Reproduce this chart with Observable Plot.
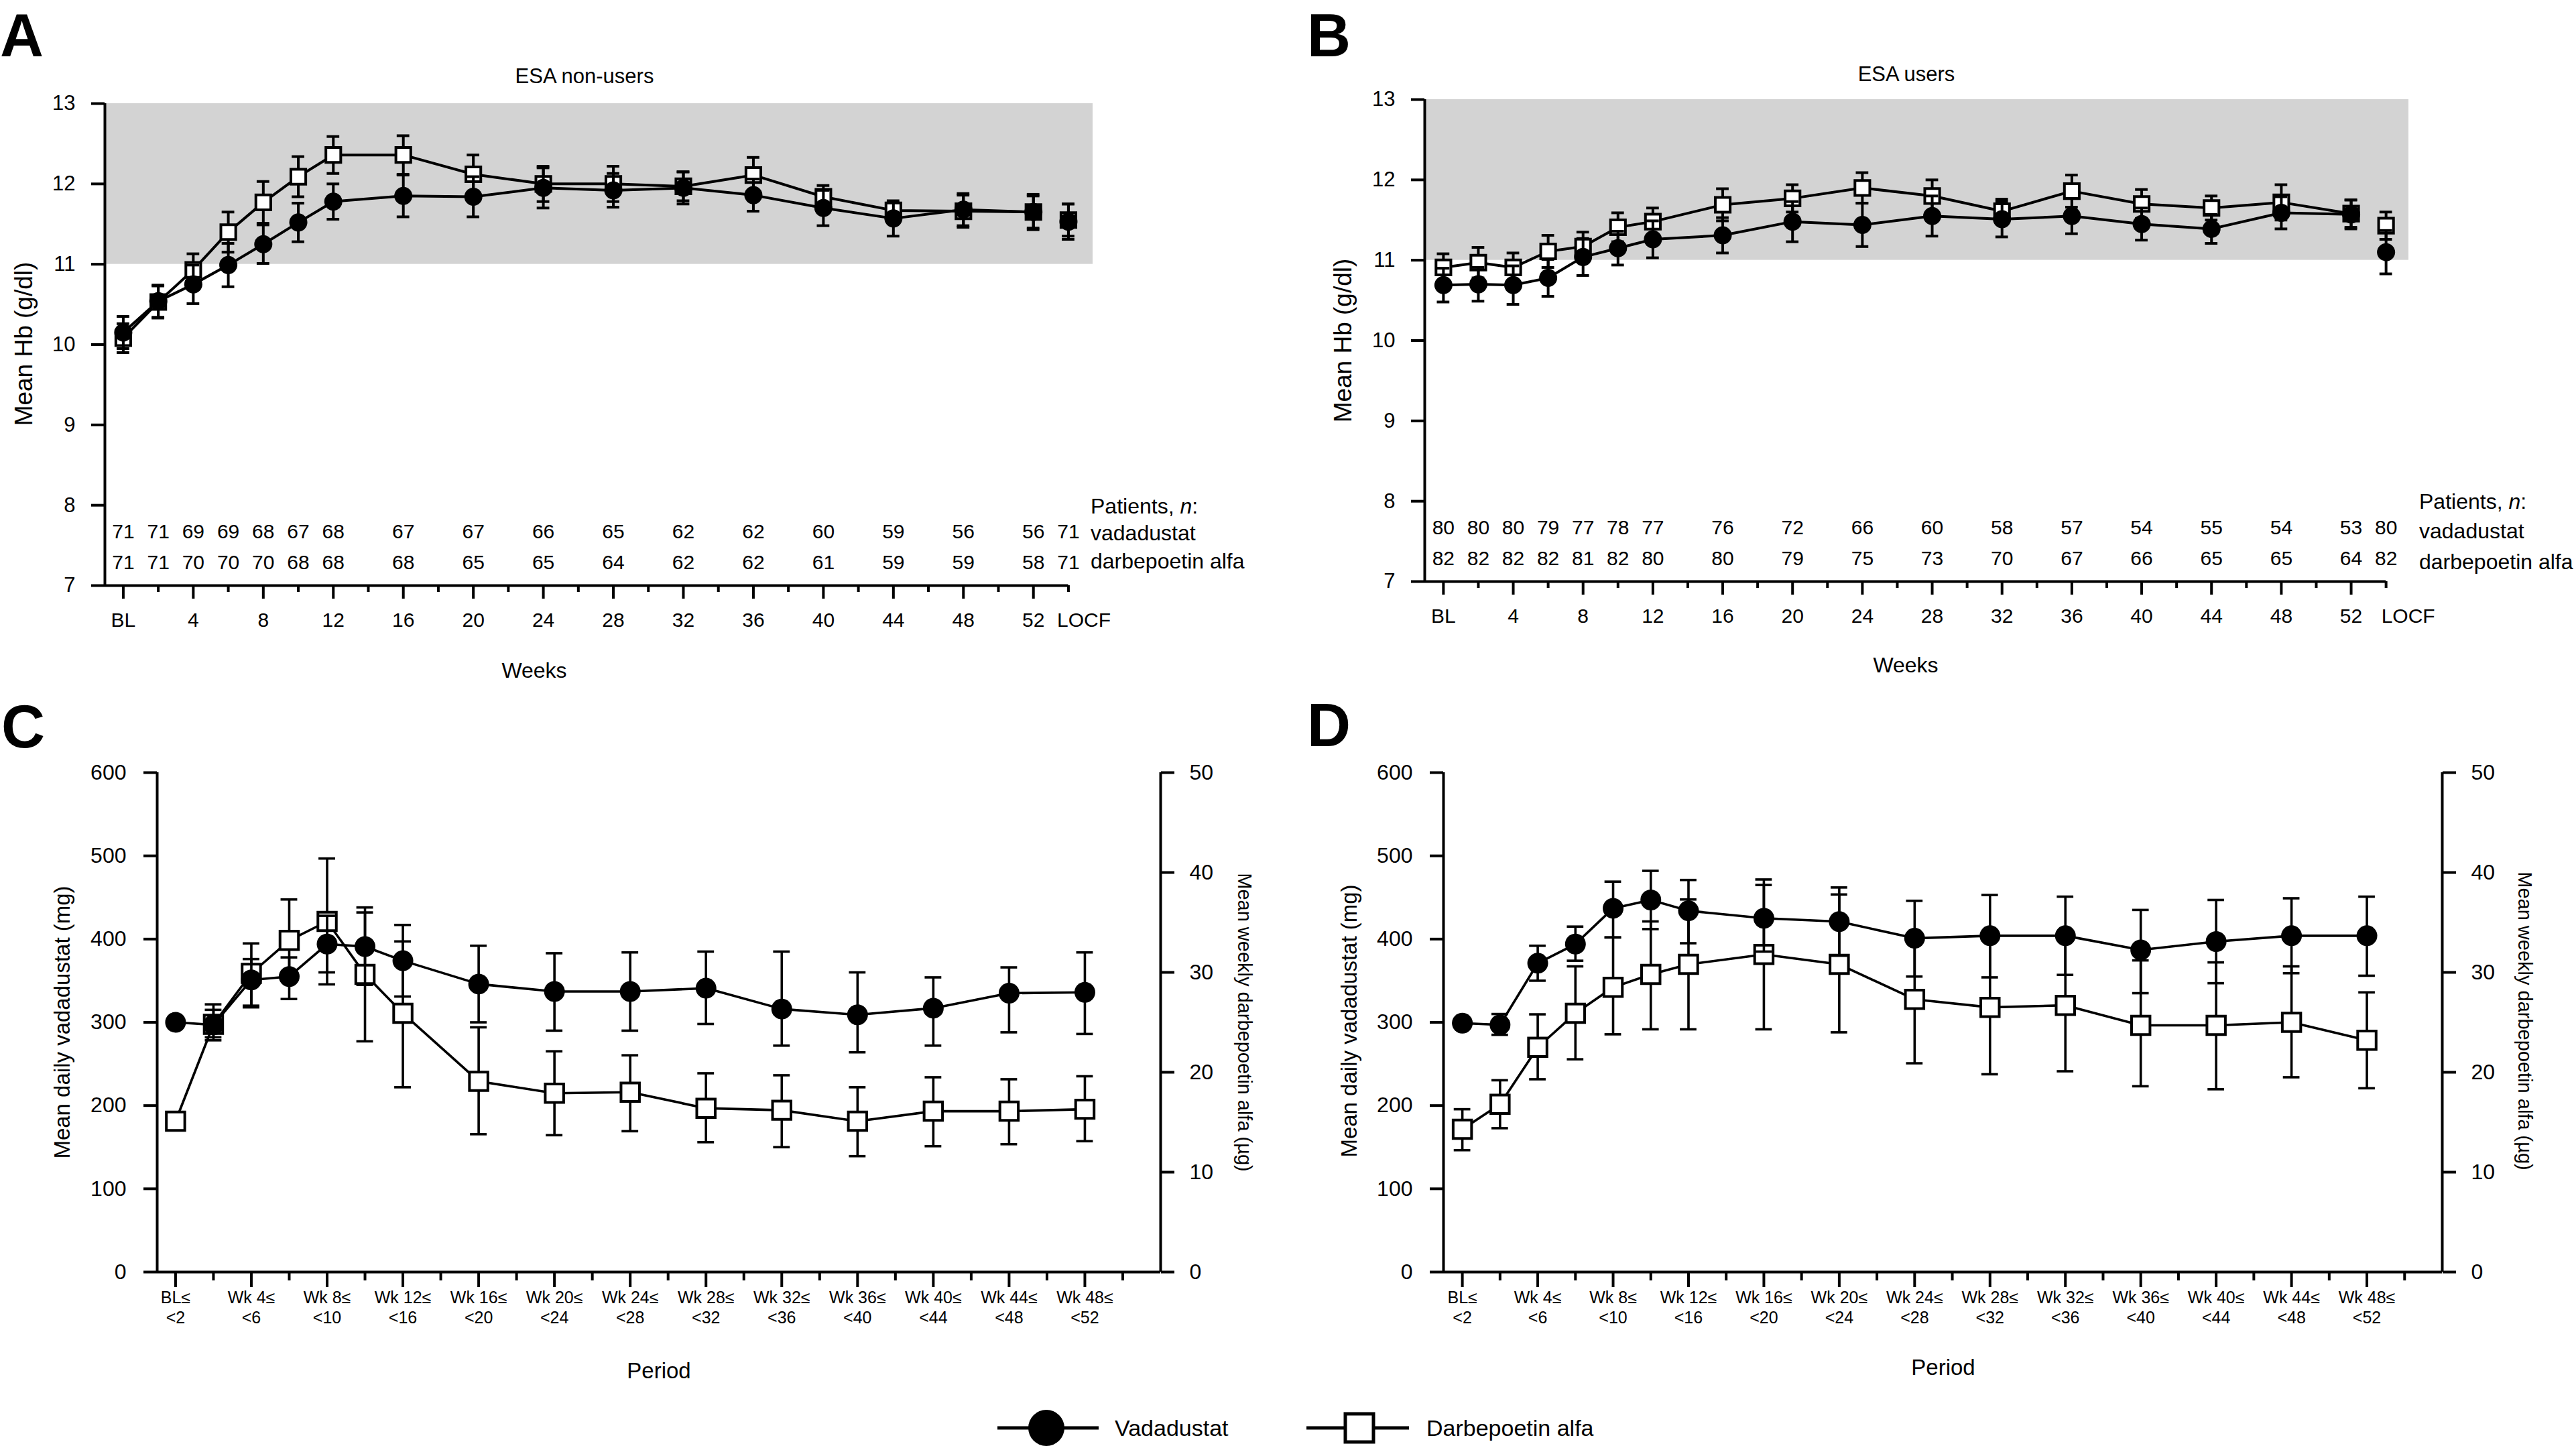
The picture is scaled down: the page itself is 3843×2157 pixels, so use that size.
<!DOCTYPE html>
<html><head><meta charset="utf-8">
<script src="https://cdn.jsdelivr.net/npm/d3@7"></script>
<script src="https://cdn.jsdelivr.net/npm/@observablehq/plot@0.6"></script>
<style>
html,body{margin:0;padding:0;background:#fff;}
#root{position:relative;width:3843px;height:2157px;overflow:hidden;background:#fff;color:#000;
  font-family:"Liberation Sans",Arial,Helvetica,sans-serif;}
#root svg{overflow:visible;}
</style></head>
<body><div id="root"></div>
<script>
// ---------------- DATA ----------------
// Hb panels (A, B): visit weeks; 54 is the slot used for the LOCF column
const hbWeeks = [0,2,4,6,8,10,12,16,20,24,28,32,36,40,44,48,52,54];
const hbTickWeeks = [0,4,8,12,16,20,24,28,32,36,40,44,48,52,54];
const hbTickLabels = ["BL","4","8","12","16","20","24","28","32","36","40","44","48","52","LOCF"];
const hbYTicks = [7,8,9,10,11,12,13];
const hbTarget = [11, 13];

// Panel A – ESA non-users
const aVadMean  = [10.15,10.54,10.75,10.99,11.25,11.52,11.78,11.85,11.84,11.95,11.92,11.95,11.86,11.70,11.57,11.68,11.65,11.53];
const aVadSE    = [0.20,0.20,0.24,0.27,0.24,0.24,0.22,0.26,0.25,0.25,0.21,0.20,0.20,0.22,0.22,0.20,0.22,0.22];
const aDarbMean = [10.08,10.53,10.93,11.40,11.77,12.09,12.36,12.36,12.12,12.00,12.00,11.97,12.11,11.84,11.67,11.66,11.65,11.55];
const aDarbSE   = [0.18,0.20,0.20,0.25,0.26,0.25,0.23,0.24,0.24,0.22,0.22,0.18,0.22,0.14,0.10,0.20,0.20,0.20];
const aVadN  = [71,71,69,69,68,67,68,67,67,66,65,62,62,60,59,56,56,71];
const aDarbN = [71,71,70,70,70,68,68,68,65,65,64,62,62,61,59,59,58,71];

// Panel B – ESA users
const bVadMean  = [10.69,10.70,10.69,10.78,11.04,11.15,11.26,11.31,11.48,11.44,11.55,11.51,11.55,11.45,11.39,11.59,11.57,11.10];
const bVadSE    = [0.21,0.21,0.24,0.23,0.23,0.21,0.23,0.22,0.25,0.27,0.25,0.22,0.22,0.20,0.18,0.20,0.18,0.27];
const bDarbMean = [10.91,10.97,10.91,11.11,11.17,11.41,11.48,11.69,11.77,11.90,11.80,11.61,11.86,11.70,11.65,11.72,11.58,11.43];
const bDarbSE   = [0.17,0.19,0.18,0.20,0.18,0.18,0.17,0.20,0.17,0.19,0.20,0.15,0.20,0.18,0.15,0.22,0.17,0.17];
const bVadN  = [80,80,80,79,77,78,77,76,72,66,60,58,57,54,55,54,53,80];
const bDarbN = [82,82,82,82,81,82,80,80,79,75,73,70,67,66,65,65,64,82];

// Dose panels (C, D): period start week
const doseWeeks = [0,2,4,6,8,10,12,16,20,24,28,32,36,40,44,48];
const doseTickWeeks = [0,4,8,12,16,20,24,28,32,36,40,44,48];
const doseTickLabels = ["BL\u2264\n<2","Wk 4\u2264\n<6","Wk 8\u2264\n<10","Wk 12\u2264\n<16","Wk 16\u2264\n<20","Wk 20\u2264\n<24",
  "Wk 24\u2264\n<28","Wk 28\u2264\n<32","Wk 32\u2264\n<36","Wk 36\u2264\n<40","Wk 40\u2264\n<44","Wk 44\u2264\n<48","Wk 48\u2264\n<52"];
const mgTicks = [0,100,200,300,400,500,600];
const ugTicks = [0,10,20,30,40,50];
const mgAxisMax = 600, ugAxisMax = 50;

// Panel C – ESA non-users: vadadustat mg/day, darbepoetin µg/week
const cVadMg  = [300,297,351,355,394,391,374,346,337,337,341,316,309,317,335,336];
const cVadLo  = [null,282,320,328,360,345,331,300,290,290,298,272,264,272,288,286];
const cVadHi  = [null,315,376,378,428,438,417,392,383,384,385,385,360,354,366,384];
const cDarbUg = [15.1,24.8,29.9,33.2,35.1,29.8,25.9,19.1,17.9,18.0,16.4,16.2,15.1,16.1,16.1,16.3];
const cDarbLo = [null,23.2,26.5,29.2,28.8,23.1,18.5,13.8,13.7,14.1,13.0,12.5,11.6,12.6,12.8,13.1];
const cDarbHi = [null,26.8,32.9,37.3,41.4,36.0,33.1,24.5,22.1,21.7,19.9,19.7,18.5,19.5,19.3,19.6];

// Panel D – ESA users
const dVadMg  = [299,297,371,394,437,447,434,425,421,401,404,404,387,397,404,404];
const dVadLo  = [null,285,350,374,402,412,395,385,380,355,354,357,335,347,359,356];
const dVadHi  = [null,310,392,415,469,482,471,465,462,446,453,451,435,447,449,451];
const dDarbUg = [14.3,16.8,22.5,25.9,28.5,29.8,30.8,31.8,30.8,27.3,26.5,26.7,24.7,24.7,25.0,23.2];
const dDarbLo = [12.2,14.4,19.3,21.3,23.8,24.3,24.3,24.3,24.0,20.9,19.8,20.1,18.6,18.3,19.5,18.4];
const dDarbHi = [16.3,19.2,25.8,30.6,33.5,35.1,37.3,39.3,37.8,33.8,33.2,33.3,31.2,31.0,30.6,28.0];

// ---------------- DRAWING ----------------
const root = document.getElementById("root");
const FONT = '"Liberation Sans", Arial, Helvetica, sans-serif';

function place(node, left, top) {
  node.style.position = "absolute";
  node.style.left = left + "px";
  node.style.top = top + "px";
  root.appendChild(node);
}
function addText(html, x, y, o = {}) {
  const d = document.createElement("div");
  d.innerHTML = html;
  const s = d.style;
  s.position = "absolute"; s.left = x + "px"; s.top = y + "px";
  s.fontSize = (o.size || 30) + "px"; s.lineHeight = String(o.lh || 1); s.whiteSpace = "nowrap";
  if (o.bold) s.fontWeight = "bold";
  const ax = o.anchor === "start" ? "0" : "-50%";
  s.transform = `translate(${ax},-50%)` + (o.rotate ? ` rotate(${o.rotate}deg)` : "");
  root.appendChild(d);
}

function errMarks(data, cap, sw) {
  const ok = data.filter(d => d.lo != null && d.hi != null);
  return [
    Plot.ruleX(ok, {x: "week", y1: "lo", y2: "hi", stroke: "black", strokeWidth: sw}),
    Plot.ruleY(ok, {y: "lo", x1: d => d.week - cap, x2: d => d.week + cap, stroke: "black", strokeWidth: sw}),
    Plot.ruleY(ok, {y: "hi", x1: d => d.week - cap, x2: d => d.week + cap, stroke: "black", strokeWidth: sw})
  ];
}

function hbPanel(p) {
  const last = hbWeeks.length - 1;
  const rows = (mean, se, n) => hbWeeks.map((w, i) => ({week: w, mean: mean[i], lo: mean[i] - se[i], hi: mean[i] + se[i], n: n[i], locf: i === last}));
  const vad = rows(p.vadMean, p.vadSE, p.vadN);
  const darb = rows(p.darbMean, p.darbSE, p.darbN);
  const x0 = p.xDomain[0], x1 = p.xDomain[1];
  const yMin = hbYTicks[0], yMax = hbYTicks[hbYTicks.length - 1];
  const labels = hbTickWeeks.map((w, i) => ({week: w, label: hbTickLabels[i]}));
  const sw = 4;
  return Plot.plot({
    width: p.width, height: p.height,
    marginLeft: p.ml, marginRight: p.mr, marginTop: p.mt, marginBottom: p.mb,
    x: {domain: p.xDomain},
    y: {domain: [yMin, yMax]},
    style: {fontFamily: FONT, fontSize: "30px", background: "transparent", color: "black", overflow: "visible"},
    marks: [
      Plot.rect([hbTarget], {x1: () => x0, x2: () => x1, y1: d => d[0], y2: d => d[1], fill: "#d3d3d3"}),
      Plot.ruleX([x0], {y1: () => yMin, y2: () => yMax, strokeWidth: 4}),
      Plot.ruleY([yMin], {x1: () => x0, x2: () => hbTickWeeks[hbTickWeeks.length - 1], strokeWidth: 4}),
      Plot.axisY({ticks: hbYTicks, tickFormat: d => String(d), tickSize: 20, tickPadding: 24, strokeWidth: 4, fontSize: 31, label: null}),
      Plot.axisX({ticks: d3.range(0, 53, 4), tickSize: 20, strokeWidth: 4, tickFormat: () => "", label: null}),
      Plot.axisX({ticks: d3.range(2, 55, 4), tickSize: 10, strokeWidth: 4, tickFormat: () => "", label: null}),
      Plot.text(labels.filter(d => d.label !== "LOCF"), {x: "week", text: "label", frameAnchor: "bottom", dy: 61, fontSize: 30}),
      Plot.text(labels.filter(d => d.label === "LOCF"), {x: "week", text: "label", frameAnchor: "bottom", dy: 61, dx: p.locfDx, textAnchor: "start", fontSize: 30}),
      // patient counts
      Plot.text(vad, {x: "week", text: d => String(d.n), frameAnchor: "bottom", dy: -71, fontSize: 30}),
      Plot.text(darb, {x: "week", text: d => String(d.n), frameAnchor: "bottom", dy: -25, fontSize: 30}),
      // darbepoetin series
      Plot.line(darb.filter(d => !d.locf), {x: "week", y: "mean", stroke: "black", strokeWidth: 4}),
      ...errMarks(darb, p.cap, sw),
      Plot.dot(darb, {x: "week", y: "mean", symbol: "square", r: 12.5, fill: "white", stroke: "black", strokeWidth: 4}),
      // vadadustat series
      Plot.line(vad.filter(d => !d.locf), {x: "week", y: "mean", stroke: "black", strokeWidth: 4}),
      ...errMarks(vad, p.cap, sw),
      Plot.dot(vad, {x: "week", y: "mean", r: 13.5, fill: "black", stroke: "none"})
    ]
  });
}

function dosePanel(p) {
  const k = mgAxisMax / ugAxisMax;
  const sc = v => v == null ? null : v * k;
  const vad = doseWeeks.map((w, i) => ({week: w, y: p.vadMg[i], lo: p.vadLo[i], hi: p.vadHi[i]}));
  const darb = doseWeeks.map((w, i) => ({week: w, y: sc(p.darbUg[i]), lo: sc(p.darbLo[i]), hi: sc(p.darbHi[i])}));
  const x0 = p.xDomain[0], xr = p.xDomain[1];
  const labels = doseTickWeeks.map((w, i) => ({week: w, label: doseTickLabels[i]}));
  const sw = 3.6;
  return Plot.plot({
    width: p.width, height: p.height,
    marginLeft: p.ml, marginRight: p.mr, marginTop: p.mt, marginBottom: p.mb,
    x: {domain: p.xDomain},
    y: {domain: [0, mgAxisMax]},
    style: {fontFamily: FONT, fontSize: "32px", background: "transparent", color: "black", overflow: "visible"},
    marks: [
      Plot.ruleX([x0, xr], {y1: () => 0, y2: () => mgAxisMax, strokeWidth: 4}),
      Plot.ruleY([0], {x1: () => x0, x2: () => xr, strokeWidth: 4}),
      Plot.axisY({ticks: mgTicks, tickFormat: d => String(d), tickSize: 20, tickPadding: 26, strokeWidth: 4, fontSize: 32, label: null}),
      Plot.axisY({anchor: "right", ticks: ugTicks.map(v => v * k), tickFormat: d => String(Math.round(d / k)), tickSize: 20, tickPadding: 23, strokeWidth: 4, fontSize: 32, label: null}),
      Plot.axisX({ticks: d3.range(0, 49, 4), tickSize: 23, strokeWidth: 4, tickFormat: () => "", label: null}),
      Plot.axisX({ticks: d3.range(2, 51, 4), tickSize: 13, strokeWidth: 4, tickFormat: () => "", label: null}),
      Plot.text(labels, {x: "week", text: "label", frameAnchor: "bottom", dy: 76, fontSize: 25, lineHeight: 1.2}),
      // darbepoetin
      Plot.line(darb, {x: "week", y: "y", stroke: "black", strokeWidth: sw}),
      ...errMarks(darb, p.cap, sw),
      Plot.dot(darb, {x: "week", y: "y", symbol: "square", r: 15.5, fill: "white", stroke: "black", strokeWidth: 4}),
      // vadadustat
      Plot.line(vad, {x: "week", y: "y", stroke: "black", strokeWidth: sw}),
      ...errMarks(vad, p.cap, sw),
      Plot.dot(vad, {x: "week", y: "y", r: 15.5, fill: "black", stroke: "none"})
    ]
  });
}

// Panel A
place(hbPanel({vadMean: aVadMean, vadSE: aVadSE, darbMean: aDarbMean, darbSE: aDarbSE, vadN: aVadN, darbN: aDarbN,
  width: 1960, height: 1060, ml: 156, mr: 330, mt: 154, mb: 187, xDomain: [-1.05, 55.4], locfDx: -17, cap: 0.36}), 0, 0);
// Panel B
place(hbPanel({vadMean: bVadMean, vadSE: bVadSE, darbMean: bDarbMean, darbSE: bDarbSE, vadN: bVadN, darbN: bDarbN,
  width: 1883, height: 1060, ml: 165, mr: 250, mt: 148, mb: 193, xDomain: [-1.07, 55.3], locfDx: -7, cap: 0.36}), 1960, 0);
// Panel C
place(dosePanel({vadMg: cVadMg, vadLo: cVadLo, vadHi: cVadHi, darbUg: cDarbUg, darbLo: cDarbLo, darbHi: cDarbHi,
  width: 1960, height: 1080, ml: 234, mr: 229, mt: 112, mb: 223, xDomain: [-0.97, 52], cap: 0.44}), 0, 1040);
// Panel D
place(dosePanel({vadMg: dVadMg, vadLo: dVadLo, vadHi: dVadHi, darbUg: dDarbUg, darbLo: dDarbLo, darbHi: dDarbHi,
  width: 1883, height: 1080, ml: 193, mr: 200, mt: 112, mb: 223, xDomain: [-1.0, 52], cap: 0.44}), 1960, 1040);

// Panel letters
addText("A", 0, 53, {size: 90, bold: true, anchor: "start"});
addText("B", 1950, 53, {size: 90, bold: true, anchor: "start"});
addText("C", 2, 1084, {size: 90, bold: true, anchor: "start"});
addText("D", 1950, 1082, {size: 90, bold: true, anchor: "start"});

// Subtitles
addText("ESA non-users", 872, 113, {size: 31});
addText("ESA users", 2844, 110, {size: 31});

// Axis titles A/B
addText("Mean Hb (g/dl)", 35, 513, {size: 37, rotate: -90});
addText("Mean Hb (g/dl)", 2003, 508, {size: 37, rotate: -90});
addText("Weeks", 797, 1000, {size: 32});
addText("Weeks", 2843, 992, {size: 32});

// Patients, n: labels
addText("Patients, <i>n</i>:", 1627, 755, {size: 32, anchor: "start"});
addText("vadadustat", 1627, 795, {size: 32, anchor: "start"});
addText("darbepoetin alfa", 1627, 837, {size: 32, anchor: "start"});
addText("Patients, <i>n</i>:", 3609, 748, {size: 32, anchor: "start"});
addText("vadadustat", 3609, 792, {size: 32, anchor: "start"});
addText("darbepoetin alfa", 3609, 838, {size: 32, anchor: "start"});

// Axis titles C/D
addText("Mean daily vadadustat (mg)", 92, 1525, {size: 33, rotate: -90});
addText("Mean daily vadadustat (mg)", 2012, 1523, {size: 33, rotate: -90});
addText("Mean weekly darbepoetin alfa (\u00b5g)", 1856, 1525, {size: 29, rotate: 90});
addText("Mean weekly darbepoetin alfa (\u00b5g)", 3766, 1523, {size: 29, rotate: 90});
addText("Period", 983, 2044, {size: 33});
addText("Period", 2899, 2039, {size: 33});

// Legend
const ns = "http://www.w3.org/2000/svg";
const leg = document.createElementNS(ns, "svg");
leg.setAttribute("width", 3843); leg.setAttribute("height", 60);
leg.innerHTML = `
  <line x1="1488" x2="1639" y1="30" y2="30" stroke="black" stroke-width="5"/>
  <ellipse cx="1561" cy="30" rx="27" ry="27" fill="black"/>
  <line x1="1949" x2="2102" y1="30" y2="30" stroke="black" stroke-width="5"/>
  <rect x="2007" y="9" width="42" height="42" fill="white" stroke="black" stroke-width="5"/>`;
place(leg, 0, 2100);
addText("Vadadustat", 1663, 2130, {size: 34, anchor: "start"});
addText("Darbepoetin alfa", 2128, 2130, {size: 34, anchor: "start"});
</script></body></html>
